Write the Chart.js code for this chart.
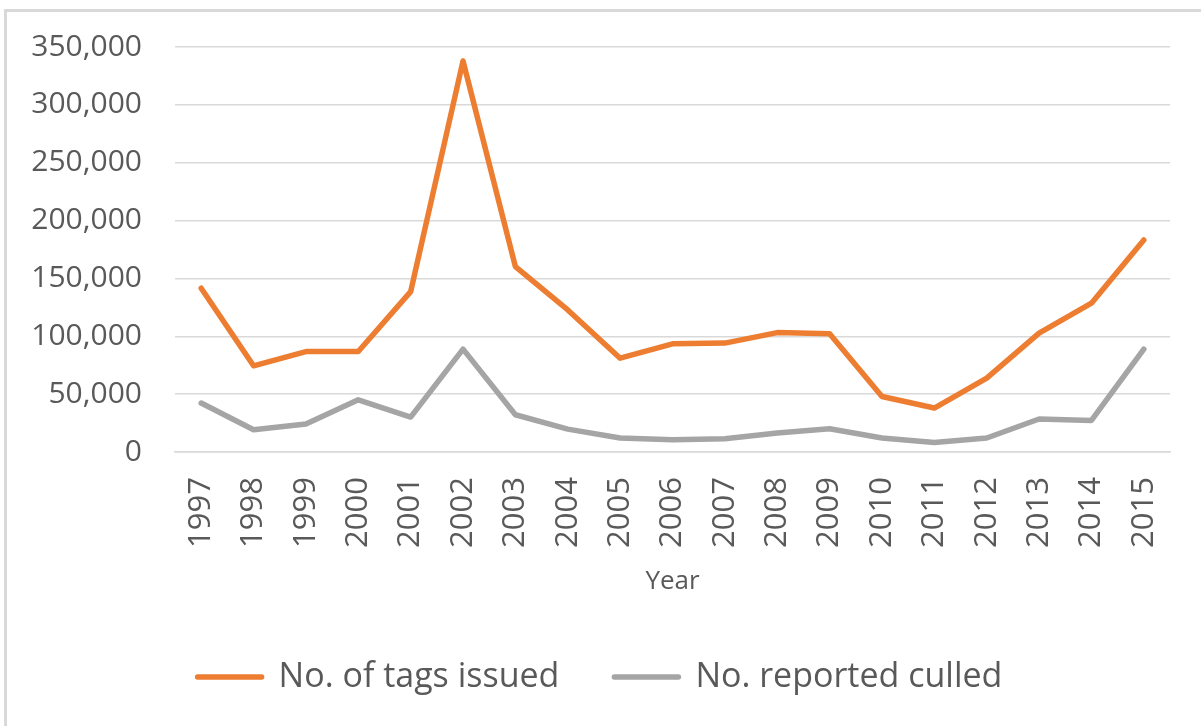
<!DOCTYPE html>
<html>
<head>
<meta charset="utf-8">
<script src="https://cdn.jsdelivr.net/npm/chart.js@4/dist/chart.umd.min.js"></script>
<style>
  body { margin: 0; background: #fff; overflow: hidden; }
  #frame { position: absolute; left: 4px; top: 9px; width: 1300px; height: 800px; border: 3px solid #d9d9d9; }
  #wrap { position: absolute; left: 0; top: 0; width: 1201px; height: 726px; }
</style>
</head>
<body>
<div id="frame"></div>
<div id="wrap"><canvas id="myChart"></canvas></div>
<script>
var years = ['1997','1998','1999','2000','2001','2002','2003','2004','2005','2006',
             '2007','2008','2009','2010','2011','2012','2013','2014','2015'];
var tagsIssued = [141500, 74500, 86800, 86800, 138600, 337900, 160200, 122800, 81100, 93500,
                  94100, 103200, 102100, 48000, 38000, 63900, 102700, 128600, 183200];
var reportedCulled = [42300, 19200, 24200, 45100, 30200, 88900, 32200, 19800, 12100, 10600,
                      11500, 16400, 20100, 12100, 8300, 12100, 28500, 27300, 88900];

var textColor = '#595959';
var fontFamily = "'Open Sans', 'Noto Sans', sans-serif";

var ctx = document.getElementById('myChart').getContext('2d');
var myChart = new Chart(ctx, {
    type: 'line',
    data: {
        labels: years,
        datasets: [{
            label: 'No. of tags issued',
            data: tagsIssued,
            borderColor: '#ED7D31',
            backgroundColor: '#ED7D31',
            borderWidth: 5.5,
            pointRadius: 0,
            tension: 0,
            borderCapStyle: 'round',
            borderJoinStyle: 'round'
        }, {
            label: 'No. reported culled',
            data: reportedCulled,
            borderColor: '#A5A5A5',
            backgroundColor: '#A5A5A5',
            borderWidth: 5.5,
            pointRadius: 0,
            tension: 0,
            borderCapStyle: 'round',
            borderJoinStyle: 'round'
        }]
    },
    options: {
        responsive: true,
        maintainAspectRatio: false,
        animation: false,
        layout: { padding: { left: 30, right: 31, top: 47, bottom: 22 } },
        plugins: {
            legend: {
                position: 'bottom',
                labels: {
                    boxWidth: 64,
                    boxHeight: 0,
                    padding: 55,
                    color: textColor,
                    font: { family: fontFamily, size: 34 }
                }
            },
            tooltip: { enabled: false }
        },
        scales: {
            x: {
                offset: true,
                grid: { display: false, drawTicks: false },
                border: { display: true, color: '#d9d9d9', width: 1.5 },
                ticks: {
                    color: textColor,
                    font: { family: fontFamily, size: 31 },
                    maxRotation: 90,
                    minRotation: 90,
                    padding: 25,
                    autoSkip: false
                },
                title: {
                    display: true,
                    text: 'Year',
                    color: textColor,
                    font: { family: fontFamily, size: 26 },
                    padding: { top: 10, bottom: 8 }
                },
                afterFit: function (s) {
                    // fixed sizes so the plot area lines up with the original
                    s.height = 153;
                    s.paddingLeft = 0;
                    s.paddingRight = 0;
                }
            },
            y: {
                min: 0,
                max: 350000,
                grid: { color: '#d9d9d9', lineWidth: 1.5, drawTicks: false },
                border: { display: false },
                ticks: {
                    stepSize: 50000,
                    color: textColor,
                    font: { family: fontFamily, size: 30 },
                    padding: 33
                },
                afterFit: function (s) {
                    s.width = 145;
                    s.paddingTop = 0;
                    s.paddingBottom = 0;
                }
            }
        }
    }
});
</script>
</body>
</html>
